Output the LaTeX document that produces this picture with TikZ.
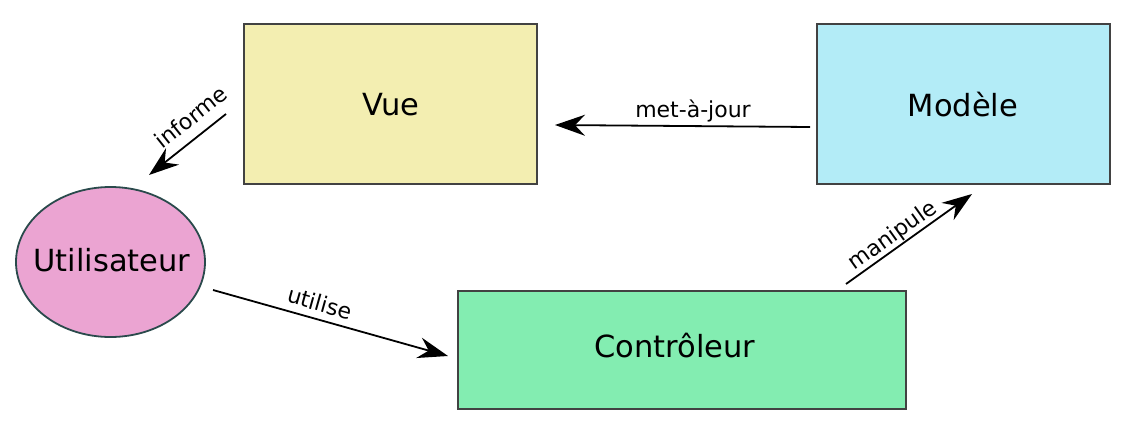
\documentclass[tikz,border=0pt]{standalone}
\usepackage{fontspec}
\setmainfont{DejaVu Sans}
\usetikzlibrary{arrows.meta,shapes.geometric}
\definecolor{vuefill}{HTML}{F3EEB1}
\definecolor{modfill}{HTML}{B3ECF7}
\definecolor{ctrlfill}{HTML}{83EDB1}
\definecolor{userfill}{HTML}{EBA4D2}
\definecolor{boxline}{HTML}{424242}
\definecolor{userline}{HTML}{2A4A4C}
\tikzset{
  boxnode/.style={draw=boxline, line width=1.8pt, inner sep=0pt},
  nodetext/.style={font=\fontsize{30.5}{36}\selectfont},
  usernode/.style={ellipse, draw=userline, line width=1.8pt, fill=userfill, inner sep=0pt, minimum width=189pt, minimum height=150pt},
  flow/.style={line width=1.8pt, -{Stealth[length=30pt,width=21pt,inset=10pt]}},
  lbl/.style={font=\fontsize{22}{26}\selectfont, inner sep=0pt}
}
\begin{document}
\begin{tikzpicture}[x=1pt,y=-1pt]
\useasboundingbox (0,0) rectangle (1127,444);
\node[boxnode, fill=vuefill, minimum width=293pt, minimum height=160pt] (vue) at (390.5,104) {};
\node[nodetext] (vuet) at (391,105) {Vue};
\node[boxnode, fill=modfill, minimum width=293pt, minimum height=160pt] (mod) at (963.5,104) {};
\node[nodetext] (modt) at (963,105) {Modèle};
\node[boxnode, fill=ctrlfill, minimum width=448pt, minimum height=118pt] (ctrl) at (682,350) {};
\node[nodetext] (ctrlt) at (675,346) {Contrôleur};
\node[usernode] (user) at (110.5,262) {};
\node[nodetext] (usert) at (112,260) {Utilisateur};

\coordinate (a1) at (226,114);
\coordinate (a2) at (149,175);
\coordinate (b1) at (810,127);
\coordinate (b2) at (555,125);
\coordinate (c1) at (846,284);
\coordinate (c2) at (972,194);
\coordinate (d1) at (213,290);
\coordinate (d2) at (448,356);

\draw[flow] (a1) -- (a2);
\draw[flow] (b1) -- (b2);
\draw[flow] (c1) -- (c2);
\draw[flow] (d1) -- (d2);

\node[lbl, rotate=38.4] (la) at (191,117) {informe};
\node[lbl] (lb) at (693,111) {met-à-jour};
\node[lbl, rotate=35.5] (lc) at (893,236) {manipule};
\node[lbl, rotate=-15.7] (ld) at (320,303) {utilise};
\end{tikzpicture}
\end{document}
